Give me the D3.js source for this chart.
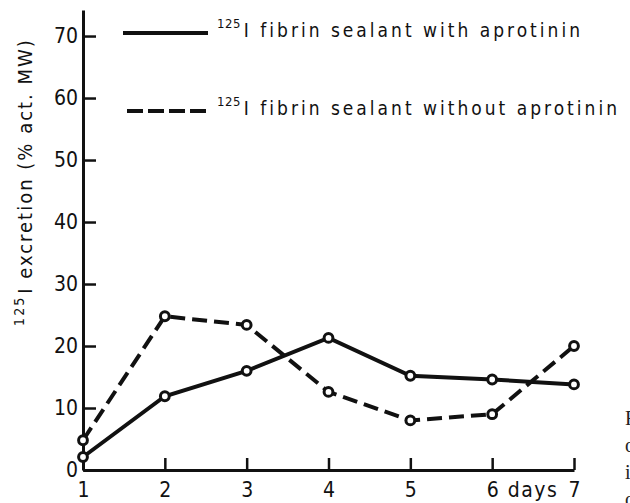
<!DOCTYPE html>
<html>
<head>
<meta charset="utf-8">
<script src="https://cdn.jsdelivr.net/npm/d3@7"></script>
<style>
  body { margin: 0; background: #fff; }
  svg { display: block; }
  .lbl { font-family: "DejaVu Sans Condensed", "DejaVu Sans", sans-serif; font-stretch: condensed; fill: #111; }
</style>
</head>
<body>
<div id="wrapper"></div>
<script>
// data
const days = [1, 2, 3, 4, 5, 6, 7];
const withAprotinin = [2.1, 11.9, 16.0, 21.3, 15.2, 14.6, 13.8];
const withoutAprotinin = [4.8, 24.8, 23.4, 12.6, 8.0, 9.0, 20.0];
const yTicks = [0, 10, 20, 30, 40, 50, 60, 70];
const xTickLabels = ["1", "2", "3", "4", "5", "6", "7"];
const legendLabels = ["I fibrin sealant with aprotinin", "I fibrin sealant without aprotinin"];
const captionBits = ["Fig", "of", "in", "of"];

const width = 630, height = 503;

const svg = d3.select("#wrapper").append("svg")
  .attr("width", width)
  .attr("height", height);

// scales
const xScale = d3.scaleLinear().domain([1, 7]).range([83, 574]);
const yScale = d3.scaleLinear().domain([0, 74.2]).range([470, 10]);

// axes, ticks point inward
const yAxis = svg.append("g")
  .attr("transform", `translate(${xScale(1)},0)`)
  .call(d3.axisLeft(yScale).tickValues(yTicks).tickSizeInner(-13).tickSizeOuter(0).tickPadding(5));

const xAxis = svg.append("g")
  .attr("transform", `translate(0,${yScale(0)})`)
  .call(d3.axisBottom(xScale).tickValues(days).tickFormat((d, i) => xTickLabels[i])
    .tickSizeInner(-12).tickSizeOuter(0).tickPadding(12));

[yAxis, xAxis].forEach(ax => {
  ax.selectAll("path.domain").attr("stroke", "#111").attr("stroke-width", 3);
  ax.selectAll(".tick line").attr("stroke", "#111").attr("stroke-width", 2.5);
  ax.selectAll(".tick text").attr("class", "lbl").attr("font-size", 21).attr("fill", "#111");
});

svg.append("text").attr("class", "lbl")
  .attr("x", xScale(6.5)).attr("y", yScale(0) + 27)
  .attr("text-anchor", "middle").attr("font-size", 21)
  .style("letter-spacing", "1.5px")
  .text("days");

// y label with superscript
const yLabel = svg.append("text").attr("class", "lbl")
  .attr("transform", "translate(32,182) rotate(-90)")
  .attr("text-anchor", "middle")
  .attr("font-size", 20)
  .style("letter-spacing", "2px");
yLabel.append("tspan").attr("font-size", 14).attr("dy", -8).text("125");
yLabel.append("tspan").attr("dy", 8).attr("dx", 2).text("I excretion (% act. MW)");

// lines
const line = d3.line()
  .x((d, i) => xScale(days[i]))
  .y(d => yScale(d));

const series = [
  { values: withAprotinin, dash: null },
  { values: withoutAprotinin, dash: "15,7" }
];

series.forEach(s => {
  svg.append("path")
    .attr("d", line(s.values))
    .attr("fill", "none")
    .attr("stroke", "#111")
    .attr("stroke-width", 4)
    .attr("stroke-dasharray", s.dash);
});

series.forEach(s => {
  svg.append("g").selectAll("circle")
    .data(s.values)
    .join("circle")
    .attr("cx", (d, i) => xScale(days[i]))
    .attr("cy", d => yScale(d))
    .attr("r", 4.4)
    .attr("fill", "#fff")
    .attr("stroke", "#111")
    .attr("stroke-width", 3);
});

// legend
const legendRows = [
  { y: 33, base: 37, dash: null, x0: 123, x1: 208 },
  { y: 111, base: 115, dash: "16,5", x0: 127, x1: 208 }
];

legendRows.forEach((r, i) => {
  svg.append("line")
    .attr("x1", r.x0).attr("x2", r.x1)
    .attr("y1", r.y).attr("y2", r.y)
    .attr("stroke", "#111").attr("stroke-width", 4)
    .attr("stroke-dasharray", r.dash);
  const t = svg.append("text").attr("class", "lbl")
    .attr("x", 217).attr("y", r.base)
    .attr("font-size", 19);
  t.append("tspan").attr("font-size", 13).attr("dy", -9).style("letter-spacing", "0.5px").text("125");
  t.append("tspan").attr("dy", 9).attr("dx", 3).style("letter-spacing", "3px").text(legendLabels[i]);
});

// caption at the right edge, cut off by the page as in the source scan
svg.append("g").selectAll("text")
  .data(captionBits)
  .join("text")
  .attr("x", 625)
  .attr("y", (d, i) => 425 + i * 27)
  .attr("font-family", "Liberation Serif, serif")
  .attr("font-size", 20)
  .attr("fill", "#222")
  .text(d => d);
</script>
</body>
</html>
